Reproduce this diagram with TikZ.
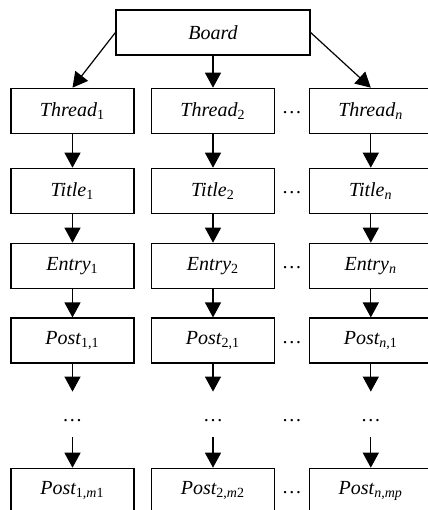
\documentclass[tikz,border=0pt]{standalone}
\usepackage{fontspec}
\setmainfont{Liberation Serif}
\usepackage{tikz}
\usetikzlibrary{arrows.meta}
\tikzstyle{box}       = [draw,line width=0.6pt,minimum width=2.161cm,minimum height=0.791cm,font=\itshape,inner sep=0pt]
\tikzstyle{arrow}     = [line width=0.6pt,-{Triangle[length=7.5pt,width=8pt]}]
\tikzstyle{gap}       = [inner sep=0pt,yshift=-1pt]
\tikzstyle{vgap}      = [inner sep=0pt,text height=14.75pt,text depth=7.75pt,anchor=base]
\newcommand{\up}[1]{{\upshape #1}}

\begin{document}
\begin{tikzpicture}
          \useasboundingbox[fill=white](0, 0) rectangle (7.521, -8.962);
          % top
          \node[box,minimum width=3.409cm](board)at(3.743, -0.571){Board};
          % columns
          \node[box](th1)at(1.274, -1.947){Thread\textsubscript{\up{1}}};
          \node[box](th2)at(3.743, -1.947){Thread\textsubscript{\up{2}}};
          \node[box](thn)at(6.516, -1.947){Thread\textsubscript{n}};
          \node[box](ti1)at(1.274, -3.353){Title\textsubscript{\up{1}}};
          \node[box](ti2)at(3.743, -3.353){Title\textsubscript{\up{2}}};
          \node[box](tin)at(6.516, -3.353){Title\textsubscript{n}};
          \node[box](en1)at(1.274, -4.671){Entry\textsubscript{\up{1}}};
          \node[box](en2)at(3.743, -4.671){Entry\textsubscript{\up{2}}};
          \node[box](enn)at(6.516, -4.671){Entry\textsubscript{n}};
          \node[box](po1)at(1.274, -5.984){Post\textsubscript{\up{1,1}}};
          \node[box](po2)at(3.743, -5.984){Post\textsubscript{\up{2,1}}};
          \node[box](pon)at(6.516, -5.984){Post\textsubscript{n\up{,1}}};
          \node[vgap](dt1)at(1.274, -7.407){\dots};
          \node[vgap](dt2)at(3.743, -7.407){\dots};
          \node[vgap](dtn)at(6.516, -7.407){\dots};
          \node[box](pm1)at(1.274, -8.625){Post\textsubscript{\up{1,}m\up{1}}};
          \node[box](pm2)at(3.743, -8.625){Post\textsubscript{\up{2,}m\up{2}}};
          \node[box](pmn)at(6.516, -8.625){Post\textsubscript{n\up{,}mp}};
          % dots between columns
          \node[gap](g1)at(5.131, -1.947){\dots};
          \node[gap](g2)at(5.131, -3.353){\dots};
          \node[gap](g3)at(5.131, -4.671){\dots};
          \node[gap](g4)at(5.131, -5.984){\dots};
          \node[vgap](g5)at(5.131, -7.407){\dots};
          \node[gap](g6)at(5.131, -8.625){\dots};
          % arrows
          \draw[arrow](board.west)--(th1.north);
          \draw[arrow](board)--(th2);
          \draw[arrow](board.east)--(thn.north);
          \draw[arrow](th1)--(ti1);
          \draw[arrow](th2)--(ti2);
          \draw[arrow](thn)--(tin);
          \draw[arrow](ti1)--(en1);
          \draw[arrow](ti2)--(en2);
          \draw[arrow](tin)--(enn);
          \draw[arrow](en1)--(po1);
          \draw[arrow](en2)--(po2);
          \draw[arrow](enn)--(pon);
          \draw[arrow](po1)--(dt1);
          \draw[arrow](po2)--(dt2);
          \draw[arrow](pon)--(dtn);
          \draw[arrow](dt1)--(pm1);
          \draw[arrow](dt2)--(pm2);
          \draw[arrow](dtn)--(pmn);
      \end{tikzpicture}
\end{document}
